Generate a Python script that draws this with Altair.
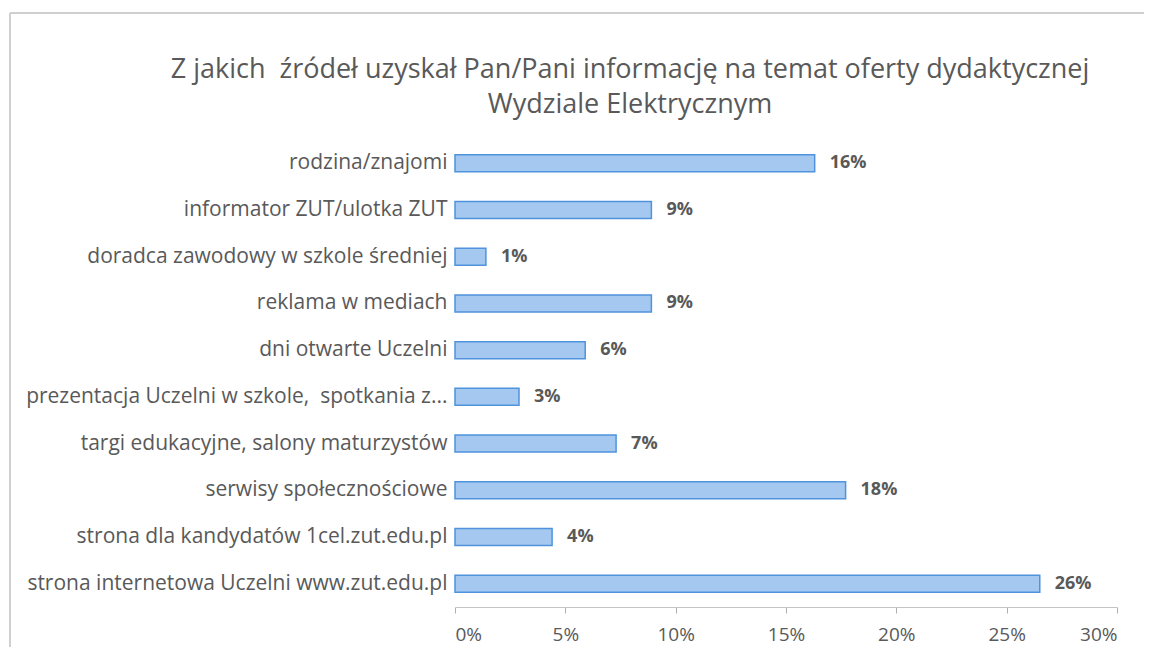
import altair as alt
import pandas as pd

categories = [
    "rodzina/znajomi",
    "informator ZUT/ulotka ZUT",
    "doradca zawodowy w szkole średniej",
    "reklama w mediach",
    "dni otwarte Uczelni",
    "prezentacja Uczelni w szkole,\u00a0 spotkania z...",
    "targi edukacyjne, salony maturzystów",
    "serwisy społecznościowe",
    "strona dla kandydatów 1cel.zut.edu.pl",
    "strona internetowa Uczelni www.zut.edu.pl",
]
values = [0.163, 0.089, 0.014, 0.089, 0.059, 0.029, 0.073, 0.177, 0.044, 0.265]
labels = ["16%", "9%", "1%", "9%", "6%", "3%", "7%", "18%", "4%", "26%"]
ticks = [0, 0.05, 0.10, 0.15, 0.20, 0.25, 0.30]
title_lines = ["Z jakich\u00a0 źródeł uzyskał Pan/Pani informację na temat oferty dydaktycznej",
               "Wydziale Elektrycznym"]

df = pd.DataFrame({"cat": categories, "val": values, "lab": labels})

FONT = "Open Sans"
GRAY = "#595959"

y = alt.Y("cat:N", sort=categories, title=None,
          axis=alt.Axis(domain=False, ticks=False, labelFontSize=21, labelColor=GRAY,
                        labelFont=FONT, labelPadding=8, labelLimit=600))
x = alt.X("val:Q", title=None,
          scale=alt.Scale(domain=[0, 0.30], nice=False),
          axis=alt.Axis(format=".0%", values=ticks,
                        grid=False, domainColor="#c4c4c4", tickColor="#b0b0b0", tickSize=6,
                        labelFontSize=19, labelColor=GRAY, labelFont=FONT, labelPadding=12))

bars = alt.Chart(df).mark_bar(fill="#a5c8f0", stroke="#4f93dc", strokeWidth=1.5,
                              size=17).encode(x=x, y=y)

text = alt.Chart(df).mark_text(align="left", baseline="middle", dx=15, fontSize=18,
                               fontWeight="bold", font=FONT, color=GRAY).encode(
    x="val:Q", y=alt.Y("cat:N", sort=categories), text="lab:N")

frame_top = alt.Chart(df).mark_rule(color="#cfcfcf", strokeWidth=1).encode(
    x=alt.value(-445), x2=alt.value(690), y=alt.value(-127))
frame_left = alt.Chart(df).mark_rule(color="#cfcfcf", strokeWidth=1).encode(
    x=alt.value(-445), y=alt.value(-127), y2=alt.value(520))

chart = alt.layer(frame_top, frame_left, bars, text).properties(
    width=662, height=467,
    title=alt.TitleParams(
        title_lines,
        fontSize=27, font=FONT, color=GRAY, fontWeight="normal",
        anchor="middle", dx=-156, lineHeight=35, offset=-106),
    padding={"left": 447, "top": 132, "right": 27, "bottom": 40},
    autosize=alt.AutoSizeParams(type="none"),
).configure_view(stroke=None)

chart.save("out.html", embed_options={"renderer": "svg", "actions": False})
